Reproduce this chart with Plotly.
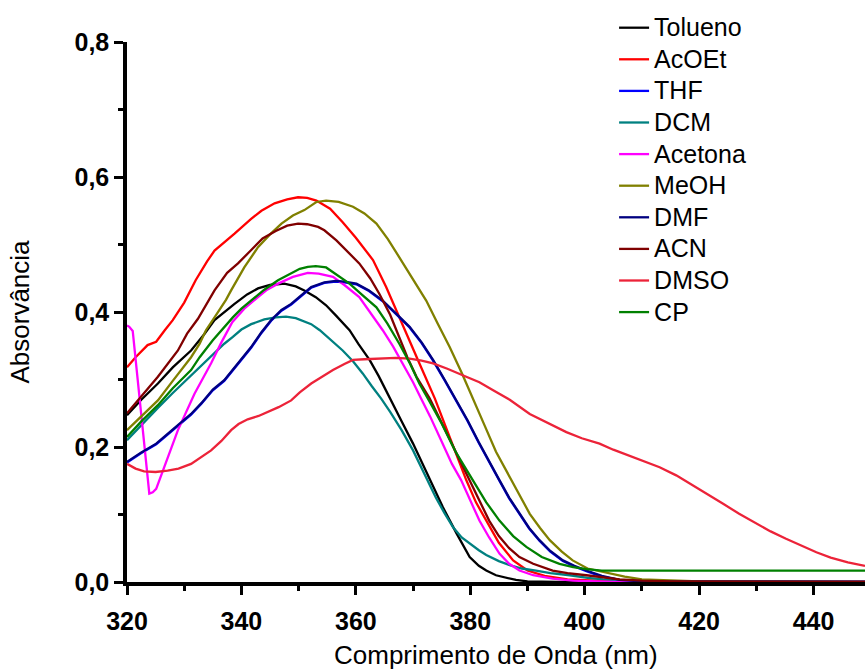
import plotly.graph_objects as go

# ---- data ----
tolueno_x = [320, 322.5, 325.4, 328, 331.2, 333.5, 335.3, 337.3, 338.8, 341, 342.9, 345, 347.5, 349.5, 351, 353, 354.8, 356.5, 358.9, 360.5, 362.4, 364, 365.9, 368, 370, 372, 372.9, 375.2, 377.6, 379.9, 381.5, 382.8, 384.5, 386.3, 388, 390, 395, 450]
tolueno_y = [0.247, 0.270, 0.294, 0.318, 0.343, 0.367, 0.388, 0.402, 0.412, 0.426, 0.435, 0.440, 0.442, 0.438, 0.432, 0.422, 0.410, 0.395, 0.373, 0.352, 0.329, 0.305, 0.272, 0.238, 0.205, 0.168, 0.151, 0.111, 0.072, 0.037, 0.024, 0.017, 0.010, 0.006, 0.003, 0.001, 0.0, 0.0]

acoet_x = [320, 321.5, 323.6, 325.1, 326.6, 328, 330, 332, 334, 335.3, 338.8, 341.7, 343.5, 345.8, 348, 349.9, 351.5, 353.1, 355.5, 357.7, 360, 363, 365.3, 367.6, 369.5, 371.1, 373.8, 375.5, 377.5, 379.3, 381, 382.8, 385, 387.5, 390, 393, 397, 402, 410, 450]
acoet_y = [0.318, 0.333, 0.351, 0.356, 0.373, 0.388, 0.414, 0.447, 0.475, 0.491, 0.516, 0.538, 0.550, 0.561, 0.567, 0.570, 0.569, 0.565, 0.553, 0.533, 0.510, 0.477, 0.437, 0.393, 0.357, 0.324, 0.272, 0.235, 0.190, 0.151, 0.118, 0.091, 0.058, 0.032, 0.017, 0.009, 0.004, 0.002, 0.0, 0.0]

thf_x = [320, 322.5, 325.1, 328, 331.2, 333, 335, 337, 338.5, 340, 341.7, 343.5, 345.2, 347, 348.7, 350.5, 352.2, 354.5, 356.5, 358, 360.1, 362.3, 364.7, 367, 369.4, 371.5, 373.5, 375.5, 377.6, 379.5, 381.5, 383.3, 385.1, 386.8, 388.6, 390.3, 392.1, 394, 396.2, 398.2, 400.3, 403, 406.1, 410, 450]
thf_y = [0.177, 0.191, 0.204, 0.225, 0.248, 0.264, 0.284, 0.298, 0.314, 0.329, 0.347, 0.369, 0.387, 0.402, 0.411, 0.424, 0.436, 0.443, 0.445, 0.444, 0.441, 0.431, 0.416, 0.397, 0.377, 0.354, 0.328, 0.299, 0.268, 0.239, 0.206, 0.177, 0.150, 0.124, 0.100, 0.079, 0.061, 0.045, 0.031, 0.023, 0.016, 0.008, 0.003, 0.001, 0.0]

dcm_x = [320, 322, 325.4, 328, 331.2, 332.7, 335, 337, 338.5, 340, 341.7, 344, 346, 347.8, 349.5, 350.5, 352.2, 353.7, 355.5, 357.7, 359.5, 361.2, 362.8, 364.4, 366, 368, 370, 372, 374, 375.5, 377, 378.5, 379.9, 381.5, 382.8, 385, 386.9, 389, 391.5, 394, 397.4, 400.5, 403.2, 408, 415, 450]
dcm_y = [0.210, 0.228, 0.258, 0.280, 0.306, 0.318, 0.338, 0.353, 0.363, 0.374, 0.382, 0.389, 0.392, 0.393, 0.391, 0.388, 0.382, 0.373, 0.360, 0.343, 0.327, 0.309, 0.290, 0.272, 0.252, 0.225, 0.195, 0.160, 0.125, 0.102, 0.081, 0.066, 0.057, 0.047, 0.040, 0.031, 0.025, 0.020, 0.017, 0.013, 0.010, 0.006, 0.004, 0.002, 0.001, 0.0]

acetona_x = [320, 320.4, 321, 323.9, 324.5, 325.1, 328.9, 331.8, 334.7, 336.5, 338.4, 340.5, 342.9, 344.5, 346.4, 349, 351.6, 353.5, 356, 358, 360.6, 362.5, 364.7, 366.5, 368.2, 370, 371.4, 373, 375, 376.8, 378.4, 380, 381.6, 383.3, 385.1, 386.8, 388.6, 391, 394.4, 398, 405, 450]
acetona_y = [0.380, 0.378, 0.372, 0.131, 0.133, 0.138, 0.225, 0.279, 0.324, 0.355, 0.385, 0.405, 0.422, 0.433, 0.442, 0.452, 0.458, 0.457, 0.452, 0.440, 0.422, 0.400, 0.373, 0.349, 0.324, 0.296, 0.272, 0.245, 0.208, 0.175, 0.151, 0.120, 0.091, 0.066, 0.042, 0.027, 0.017, 0.010, 0.005, 0.002, 0.0, 0.0]

meoh_x = [320, 322.5, 325.4, 328, 331.2, 332.7, 333.8, 335.3, 337.3, 338.2, 340.5, 342.9, 345, 347, 349, 351, 353.1, 354.8, 357, 359.5, 361.5, 363.6, 365.6, 367.6, 370, 372.3, 374.3, 376.4, 378.5, 380.5, 382.5, 384.5, 387.2, 388.8, 390.4, 392.2, 393.9, 396, 397.9, 400.5, 403.2, 405, 407, 410, 415, 420, 450]
meoh_y = [0.225, 0.245, 0.269, 0.298, 0.333, 0.353, 0.373, 0.392, 0.418, 0.432, 0.466, 0.496, 0.515, 0.531, 0.543, 0.551, 0.563, 0.565, 0.563, 0.556, 0.546, 0.531, 0.508, 0.481, 0.448, 0.417, 0.383, 0.348, 0.310, 0.272, 0.232, 0.193, 0.151, 0.125, 0.101, 0.080, 0.062, 0.045, 0.032, 0.020, 0.015, 0.011, 0.008, 0.004, 0.002, 0.001, 0.0]

dmf_x = [320, 322.5, 325.1, 328, 331.2, 333, 335, 337, 338.5, 340, 341.7, 343.5, 345.2, 347, 348.7, 350.5, 352.2, 354.5, 356.5, 358, 360.1, 362.3, 364.7, 367, 369.4, 371.5, 373.5, 375.5, 377.6, 379.5, 381.5, 383.3, 385.1, 386.8, 388.6, 390.3, 392.1, 394, 396.2, 398.2, 400.3, 403, 406.1, 410, 450]
dmf_y = [0.178, 0.192, 0.205, 0.226, 0.249, 0.265, 0.285, 0.299, 0.315, 0.330, 0.348, 0.370, 0.388, 0.403, 0.412, 0.425, 0.437, 0.444, 0.446, 0.445, 0.442, 0.432, 0.417, 0.398, 0.378, 0.355, 0.329, 0.300, 0.269, 0.240, 0.207, 0.178, 0.151, 0.125, 0.101, 0.080, 0.062, 0.046, 0.032, 0.024, 0.017, 0.009, 0.003, 0.001, 0.0]

acn_x = [320, 322.5, 325.4, 328.9, 330.5, 332.4, 335.3, 337.5, 339.4, 341.5, 343.7, 346, 348, 349.9, 351.5, 353.4, 354.5, 356.6, 358.5, 360.6, 362.5, 364.1, 366, 367.6, 369, 370.6, 372.9, 375, 377.5, 379.9, 381.5, 383.3, 385, 386.8, 388.6, 391, 394.4, 397, 400.3, 403, 406.1, 410, 415, 450]
acn_y = [0.250, 0.275, 0.304, 0.343, 0.368, 0.390, 0.432, 0.458, 0.472, 0.490, 0.509, 0.520, 0.528, 0.531, 0.530, 0.526, 0.521, 0.506, 0.490, 0.472, 0.450, 0.427, 0.396, 0.363, 0.333, 0.304, 0.272, 0.236, 0.193, 0.151, 0.122, 0.091, 0.068, 0.050, 0.037, 0.027, 0.017, 0.013, 0.010, 0.007, 0.004, 0.002, 0.001, 0.0]

dmso_x = [320, 321.5, 323, 325, 327.1, 329, 331.2, 333, 334.7, 336.5, 338.2, 339.5, 341.1, 343, 344.6, 346.5, 348.7, 350.2, 352.2, 354.5, 356, 358, 359.5, 361.5, 364.7, 367, 369.4, 371.5, 373.5, 376, 379.3, 381.6, 384, 386.9, 390.4, 393.5, 396.8, 399.5, 402.6, 405, 408.4, 411, 413.1, 416, 419, 421.5, 424.2, 427, 430, 432.5, 435.2, 438, 440.5, 443, 446, 449]
dmso_y = [0.175, 0.168, 0.164, 0.163, 0.165, 0.168, 0.175, 0.185, 0.195, 0.209, 0.225, 0.234, 0.241, 0.246, 0.252, 0.259, 0.269, 0.281, 0.294, 0.306, 0.314, 0.323, 0.329, 0.330, 0.331, 0.332, 0.331, 0.328, 0.324, 0.316, 0.304, 0.296, 0.284, 0.270, 0.249, 0.236, 0.222, 0.213, 0.205, 0.196, 0.185, 0.177, 0.170, 0.158, 0.143, 0.130, 0.116, 0.101, 0.087, 0.075, 0.064, 0.053, 0.044, 0.036, 0.029, 0.024]

cp_x = [320, 322.5, 325.4, 328, 331.2, 332.7, 335, 337, 338.5, 340, 341.7, 344, 346.4, 348.5, 350.2, 351.6, 353, 354.8, 356.5, 358.9, 361, 363.6, 365.5, 367.6, 369.5, 371.1, 372.9, 375, 377.5, 380.5, 382.8, 385.1, 387.5, 389.8, 392.5, 395.6, 398, 400.3, 403, 450]
cp_y = [0.215, 0.238, 0.262, 0.287, 0.314, 0.333, 0.358, 0.378, 0.392, 0.405, 0.417, 0.433, 0.447, 0.457, 0.464, 0.467, 0.468, 0.466, 0.456, 0.442, 0.426, 0.407, 0.383, 0.353, 0.323, 0.294, 0.267, 0.235, 0.192, 0.151, 0.118, 0.091, 0.068, 0.052, 0.037, 0.027, 0.022, 0.019, 0.017, 0.017]

series_names = ["Tolueno", "AcOEt", "THF", "DCM", "Acetona", "MeOH", "DMF", "ACN", "DMSO", "CP"]
series_x = [tolueno_x, acoet_x, thf_x, dcm_x, acetona_x, meoh_x, dmf_x, acn_x, dmso_x, cp_x]
series_y = [tolueno_y, acoet_y, thf_y, dcm_y, acetona_y, meoh_y, dmf_y, acn_y, dmso_y, cp_y]
series_colors = ["#000000", "#FF0000", "#0000FF", "#008080", "#FF00FF", "#808000", "#000080", "#800000", "#EC2339", "#008000"]

x_tickvals = [320, 340, 360, 380, 400, 420, 440]
y_tickvals = [0.0, 0.2, 0.4, 0.6, 0.8]
x_title = "Comprimento de Onda (nm)"
y_title = "Absorvância"

FAMILY = "Liberation Sans, Arial, sans-serif"

fig = go.Figure()
for name, xs, ys, col in zip(series_names, series_x, series_y, series_colors):
    fig.add_trace(go.Scatter(x=xs, y=ys, mode="lines",
                             name="<span style='font-size:25px'>" + name + "</span>",
                             line=dict(color=col, width=2.3)))

title_font = dict(family=FAMILY, size=26, color="black")
tick_font = dict(family=FAMILY, size=25, color="black", weight="bold")

fig.update_layout(
    width=865, height=671,
    margin=dict(l=127, r=0, t=42, b=89),
    paper_bgcolor="white", plot_bgcolor="white",
    separators=",.",
    showlegend=True,
    legend=dict(x=0.66, y=1.065, xanchor="left", yanchor="top",
                bgcolor="rgba(0,0,0,0)", borderwidth=0,
                font=dict(family=FAMILY, size=22, color="black")),
    xaxis=dict(range=[320, 449], tickvals=x_tickvals, ticktext=[str(v) for v in x_tickvals],
               showline=True, linecolor="black", linewidth=3.5,
               ticks="outside", ticklen=9, tickwidth=3, tickcolor="black",
               ticklabelstandoff=5,
               minor=dict(dtick=10, tick0=320, ticks="outside", ticklen=5, tickwidth=2.5, tickcolor="black"),
               showgrid=False, zeroline=False,
               tickfont=tick_font,
               automargin=False),
    yaxis=dict(range=[0, 0.8], tickvals=y_tickvals, tickformat=".1f",
               showline=True, linecolor="black", linewidth=3.5,
               ticks="outside", ticklen=9, tickwidth=3, tickcolor="black",
               minor=dict(dtick=0.1, tick0=0, ticks="outside", ticklen=5, tickwidth=2.5, tickcolor="black"),
               showgrid=False, zeroline=False,
               tickfont=tick_font,
               title=dict(text=y_title, font=title_font, standoff=38),
               automargin=False),
    annotations=[dict(text=x_title, xref="paper", yref="paper", x=0.5, y=-0.104,
                      xanchor="center", yanchor="top", showarrow=False, font=title_font)],
)

fig.write_html("out.html")
